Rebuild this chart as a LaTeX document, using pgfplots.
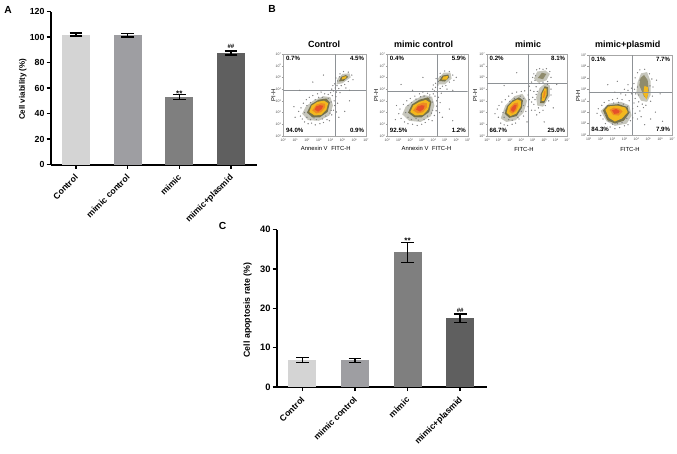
\documentclass[border=0pt]{standalone}
\usepackage{fontspec}
\setmainfont{Liberation Sans}
\usepackage{pgfplots}
\pgfplotsset{compat=1.18}
\definecolor{barA}{HTML}{D4D4D4}
\definecolor{barB}{HTML}{9E9EA2}
\definecolor{barC}{HTML}{7F7F7F}
\definecolor{barD}{HTML}{5F5F5F}
\definecolor{halo}{HTML}{C6C6BC}
\definecolor{ring}{HTML}{77724A}
\definecolor{yel}{HTML}{F2B81E}
\definecolor{ora}{HTML}{EE8A22}
\definecolor{redd}{HTML}{E5502A}
\definecolor{quad}{HTML}{8E9296}
\newcommand{\fs}[1]{\fontsize{#1}{#1}\selectfont}
\newcommand{\dec}[1]{10\raisebox{0.8pt}{\fs{1.8}#1}}
% one filled density contour
\newcommand{\blob}[2]{\addplot[fill=#1,draw=none,forget plot] coordinates {#2};}
% quadrant percentages: UL, UR, LL, LR
\newcommand{\qlabels}[4]{
  \node[font=\fs{4.6}\bfseries,anchor=north west,inner sep=0pt] at (rel axis cs:0.03,0.975) {#1};
  \node[font=\fs{4.6}\bfseries,anchor=north east,inner sep=0pt] at (rel axis cs:0.98,0.975) {#2};
  \node[font=\fs{4.6}\bfseries,anchor=south west,inner sep=0pt] at (rel axis cs:0.03,0.035) {#3};
  \node[font=\fs{4.6}\bfseries,anchor=south east,inner sep=0pt] at (rel axis cs:0.98,0.035) {#4};
}
\pgfplotsset{
  barpanel/.style={
    scale only axis, axis x line=bottom, axis y line=left,
    axis line style={-, line width=1.4pt},
    tick style={line width=1.1pt, black}, major tick length=3pt,
    tick align=outside, ymin=0,
    xtick={0,1,2,3},
    xticklabels={Control,mimic control,mimic,mimic+plasmid},
    x tick label style={font=\fs{6.5}\bfseries, rotate=45, anchor=north east, inner sep=1.5pt, xshift=-2pt},
    /pgf/number format/assume math mode=true,
    xmin=-0.49, xmax=3.51,
    clip=false,
  },
  onebar/.style={
    ybar, bar shift=0pt, bar width=21pt, draw=none, fill=#1,
    error bars/.cd, y dir=both, y explicit,
    error bar style={line width=1.2pt, black},
    error mark options={rotate=90, mark size=4.8pt, line width=1.2pt, black},
  },
  flow/.style={
    scale only axis, xmin=0, xmax=7, ymin=0, ymax=7,
    axis line style={line width=0.3pt, gray!70},
    tick style={line width=0.2pt, gray!80}, major tick length=1pt,
    tick align=outside, xtick pos=bottom, ytick pos=left,
    xtick={0,...,7}, ytick={0,...,7},
    xticklabels={\dec0,\dec1,\dec2,\dec3,\dec4,\dec5,\dec6,\dec7},
    yticklabels={\dec0,\dec1,\dec2,\dec3,\dec4,\dec5,\dec6,\dec7},
    tick label style={font=\fs{2.6}, text=black!70, inner sep=0.6pt},
  },
  dots/.style={only marks, mark=*, mark size=0.24pt, black!50, forget plot},
  qline/.style={quad, line width=0.75pt, forget plot},
}
\begin{document}
\begin{tikzpicture}[x=0.75pt,y=0.75pt]
\path[use as bounding box] (0,0) rectangle (677,453);

% panel A
\begin{axis}[barpanel, at={(38.03pt,216.23pt)}, anchor=south west,
    width=154.95pt, height=114.75pt, ymax=120,
    ytick={0,20,40,60,80,100,120},
    y tick label style={font=\fs{6.6}\bfseries, inner sep=1.5pt},
    ]
  \addplot[onebar=barA] coordinates {(0,102.0) +- (0,1.3)};
  \addplot[onebar=barB] coordinates {(1,101.5) +- (0,1.3)};
  \addplot[onebar=barC] coordinates {(2,53.0) +- (0,2.0)};
  \addplot[onebar=barD] coordinates {(3,87.6) +- (0,1.6)};
  \node[font=\fs{6}\bfseries] at (axis cs:2,55.5) {**};
  \node[font=\fs{4.6}\bfseries] at (axis cs:3,92.8) {\#\#};
\end{axis}

% panel C
\begin{axis}[barpanel, at={(207.53pt,49.5pt)}, anchor=south west,
    width=157.7pt, height=118.0pt, ymax=40,
    ytick={0,10,20,30,40},
    y tick label style={font=\fs{7}\bfseries, inner sep=1.5pt},
    ]
  \addplot[onebar=barA] coordinates {(0,6.9) +- (0,0.65)};
  \addplot[onebar=barB] coordinates {(1,6.75) +- (0,0.5)};
  \addplot[onebar=barC] coordinates {(2,34.2) +- (0,2.55)};
  \addplot[onebar=barD] coordinates {(3,17.5) +- (0,1.1)};
  \node[font=\fs{6}\bfseries] at (axis cs:2,37.2) {**};
  \node[font=\fs{4.6}\bfseries] at (axis cs:3,19.5) {\#\#};
\end{axis}

% panel B, four flow plots
\begin{axis}[flow, at={(212.48pt,237.75pt)}, anchor=south west, width=62pt, height=61.5pt]
  \blob{halo}{(1.6,1.9)(2.1,1.35)(3.0,1.3)(3.9,1.75)(4.2,2.6)(4.0,3.3)(3.4,3.4)(2.5,3.0)(1.9,2.5)}
  \blob{halo}{(4.5,4.4)(5.0,4.5)(5.7,5.0)(5.6,5.35)(5.0,5.3)(4.6,4.9)}
  \blob{ring}{(2.0,2.0)(2.45,1.6)(3.1,1.6)(3.75,2.05)(3.95,2.85)(3.65,3.2)(3.0,3.1)(2.35,2.7)}
  \blob{ring}{(4.7,4.65)(5.1,4.7)(5.5,5.05)(5.3,5.2)(4.9,5.05)}
  \blob{yel}{(2.2,2.05)(2.65,1.75)(3.2,1.8)(3.65,2.25)(3.8,2.8)(3.45,3.02)(2.9,2.92)(2.4,2.6)}
  \blob{yel}{(4.95,4.82)(5.3,4.92)(5.35,5.12)(5.0,5.03)}
  \blob{ora}{(2.45,2.18)(2.8,1.93)(3.2,2.03)(3.55,2.45)(3.55,2.75)(3.2,2.8)(2.8,2.68)}
  \blob{redd}{(2.65,2.25)(2.95,2.08)(3.25,2.3)(3.38,2.58)(3.1,2.63)(2.78,2.52)}
  \addplot[dots] coordinates {
    (1.3,2.1)(1.45,1.7)(1.5,2.4)(1.6,1.45)(1.7,2.8)(1.8,1.2)(1.95,3.1)(2.1,1.05)(2.2,3.3)(2.4,1.1)
    (2.5,3.45)(2.7,0.95)(2.9,3.6)(3.1,1.05)(3.2,3.75)(3.4,1.15)(3.5,3.6)(3.7,1.4)(3.8,3.55)(3.9,1.3)
    (4.0,3.7)(4.1,1.8)(4.15,3.45)(4.25,2.2)(4.3,3.0)(4.35,2.6)(4.45,3.35)(4.5,2.05)(4.6,2.8)(4.7,1.6)
    (4.1,4.0)(4.25,3.85)(4.4,4.1)(4.5,3.75)(4.55,4.3)(4.7,4.05)(4.8,3.7)(4.35,4.45)(4.9,4.3)(4.2,4.3)
    (4.6,4.7)(4.45,4.95)(4.8,5.3)(5.1,5.5)(5.5,5.45)(5.8,5.2)(5.9,4.8)(5.5,4.65)(5.2,4.4)(4.75,5.05)
    (1.8,2.0)(2.0,1.6)(2.3,1.4)(2.0,2.6)(2.3,2.85)(2.7,3.1)(3.0,3.3)(3.3,3.3)(3.8,3.2)(4.05,2.9)
    (3.6,1.7)(3.3,1.45)(2.8,1.4)(2.6,1.55)(4.05,2.2)(3.95,1.95)(5.3,4.1)(5.6,3.9)(1.0,1.6)(0.9,2.5)
    (5.2,2.1)(5.6,3.0)(2.5,4.6)(3.4,5.2)(1.4,3.9)
  };
  \addplot[qline] coordinates {(4.38,0) (4.38,7)};
  \addplot[qline] coordinates {(0,3.9) (7,3.9)};
  \qlabels{0.7\%}{4.5\%}{94.0\%}{0.9\%}
\end{axis}

\begin{axis}[flow, at={(290.48pt,237.75pt)}, anchor=south west, width=60.3pt, height=61.5pt]
  \blob{halo}{(1.3,1.85)(1.9,1.3)(2.9,1.2)(3.8,1.7)(4.1,2.6)(3.9,3.35)(3.2,3.5)(2.3,3.05)(1.6,2.5)}
  \blob{halo}{(4.3,4.4)(5.0,4.4)(5.6,4.9)(5.5,5.4)(4.9,5.4)(4.4,4.9)}
  \blob{ring}{(1.8,2.0)(2.35,1.6)(3.0,1.6)(3.65,2.05)(3.85,2.9)(3.55,3.3)(2.8,3.1)(2.15,2.7)}
  \blob{ring}{(4.5,4.7)(5.0,4.65)(5.4,5.0)(5.3,5.25)(4.8,5.15)}
  \blob{yel}{(2.0,2.05)(2.45,1.75)(3.1,1.8)(3.55,2.25)(3.7,2.85)(3.35,3.08)(2.8,2.92)(2.25,2.6)}
  \blob{yel}{(4.75,4.82)(5.2,4.82)(5.3,5.12)(4.9,5.08)}
  \blob{ora}{(2.25,2.18)(2.65,1.93)(3.1,2.03)(3.45,2.45)(3.45,2.8)(3.1,2.85)(2.65,2.68)}
  \blob{redd}{(2.5,2.25)(2.85,2.08)(3.15,2.3)(3.25,2.58)(3.0,2.63)(2.65,2.52)}
  \addplot[dots] coordinates {
    (0.8,2.6)(1.0,1.9)(1.1,2.3)(1.2,1.5)(1.4,2.7)(1.5,1.2)(1.7,3.0)(1.8,1.05)(2.0,3.2)(2.2,1.0)
    (2.4,3.4)(2.6,0.9)(2.8,3.6)(3.0,1.0)(3.1,3.75)(3.3,1.15)(3.5,3.65)(3.6,1.4)(3.7,3.5)(3.9,1.3)
    (4.0,3.6)(4.1,1.75)(4.15,3.4)(4.25,2.15)(4.3,3.0)(4.3,2.55)(4.45,3.3)(4.55,2.0)(4.6,2.85)(4.8,1.6)
    (3.95,4.0)(4.1,3.85)(4.2,4.15)(4.35,3.75)(4.4,4.35)(4.6,4.05)(4.7,3.65)(4.2,4.5)(4.8,4.25)(4.0,4.35)
    (4.45,4.65)(4.25,4.9)(4.6,5.35)(5.0,5.55)(5.4,5.5)(5.7,5.2)(5.8,4.75)(5.4,4.6)(5.1,4.3)(4.6,5.05)
    (1.6,2.0)(1.8,1.6)(2.1,1.4)(1.8,2.6)(2.1,2.85)(2.5,3.15)(2.9,3.35)(3.2,3.4)(3.7,3.25)(3.95,2.9)
    (3.5,1.7)(3.2,1.4)(2.7,1.35)(2.5,1.5)(3.95,2.2)(3.85,1.95)(5.2,4.0)(5.7,3.9)(0.7,1.4)(6.0,5.0)
    (5.4,2.3)(5.7,1.3)(1.2,4.4)(3.1,5.0)(2.2,3.9)
  };
  \addplot[qline] coordinates {(4.38,0) (4.38,7)};
  \addplot[qline] coordinates {(0,3.82) (7,3.82)};
  \qlabels{0.4\%}{5.9\%}{92.5\%}{1.2\%}
\end{axis}

\begin{axis}[flow, at={(365.25pt,237.75pt)}, anchor=south west, width=60pt, height=61.5pt]
  \blob{halo}{(1.2,1.5)(1.7,1.2)(2.5,1.35)(3.2,2.0)(3.5,3.0)(3.1,3.6)(2.4,3.4)(1.6,2.6)}
  \blob{halo}{(4.1,4.9)(4.5,4.55)(5.2,4.75)(5.5,5.3)(5.1,5.6)(4.4,5.5)}
  \blob{halo}{(4.4,2.6)(4.9,2.5)(5.5,3.4)(5.5,4.3)(5.1,4.5)(4.6,4.1)(4.3,3.3)}
  \blob{ring}{(1.55,1.9)(1.95,1.55)(2.6,1.7)(3.05,2.4)(3.15,3.05)(2.8,3.3)(2.25,3.05)(1.75,2.55)}
  \blob{ring}{(4.65,2.8)(5.0,2.8)(5.35,3.5)(5.35,4.15)(5.05,4.25)(4.7,3.6)}
  \blob{ring!70!halo}{(4.45,4.95)(4.9,4.85)(5.2,5.3)(4.8,5.4)}
  \blob{yel}{(1.72,1.98)(2.05,1.7)(2.55,1.9)(2.95,2.5)(2.98,3.0)(2.65,3.12)(2.2,2.88)(1.85,2.5)}
  \blob{yel}{(4.78,3.0)(5.0,3.0)(5.22,3.55)(5.22,4.03)(5.05,4.08)(4.82,3.6)}
  \blob{ora}{(1.95,2.1)(2.2,1.9)(2.55,2.15)(2.75,2.6)(2.7,2.85)(2.4,2.8)(2.05,2.45)}
  \blob{ora}{(4.9,3.25)(5.0,3.25)(5.1,3.6)(5.1,3.85)(4.98,3.8)}
  \blob{redd}{(2.1,2.2)(2.3,2.05)(2.5,2.3)(2.6,2.65)(2.4,2.65)(2.15,2.4)}
  \addplot[dots] coordinates {
    (0.7,1.9)(0.9,2.3)(1.0,1.6)(1.05,2.6)(1.2,1.1)(1.3,2.9)(1.5,0.95)(1.6,3.1)(1.8,0.9)(1.9,3.4)
    (2.2,1.0)(2.2,3.65)(2.5,1.1)(2.6,3.75)(2.8,1.45)(3.0,3.8)(3.2,1.7)(3.3,3.85)(3.4,2.1)(3.6,3.5)
    (3.6,2.5)(3.7,3.1)(3.8,3.9)(3.9,2.2)(4.0,3.3)(4.1,2.7)(4.1,3.8)(4.2,2.2)(4.3,4.2)(4.35,1.8)
    (3.9,4.6)(4.0,5.0)(4.1,5.3)(4.2,4.75)(4.35,5.65)(4.6,5.75)(4.9,5.7)(5.2,5.75)(5.5,5.5)(5.6,5.0)
    (5.3,4.65)(4.9,4.6)(4.6,4.5)(4.25,5.15)(5.4,3.0)(5.6,3.5)(5.6,4.0)(5.3,4.4)(4.4,3.8)(4.5,2.4)
    (4.9,2.2)(4.6,2.0)(5.1,2.6)(4.2,3.1)(4.3,3.55)(3.9,2.9)(3.7,4.25)(1.4,2.0)(1.5,1.6)(1.6,2.2)
    (1.9,1.4)(2.2,1.35)(2.0,2.95)(2.4,3.2)(2.9,3.4)(3.2,3.2)(3.2,2.6)(3.0,2.1)(2.7,1.6)(3.5,1.2)
    (5.0,1.2)(5.8,2.4)(6.1,4.4)(1.5,4.3)(2.6,5.4)
  };
  \addplot[qline] coordinates {(3.67,0) (3.67,7)};
  \addplot[qline] coordinates {(0,4.46) (7,4.46)};
  \qlabels{0.2\%}{8.1\%}{66.7\%}{25.0\%}
\end{axis}

\begin{axis}[flow, at={(441.53pt,238.5pt)}, anchor=south west, width=62.5pt, height=60pt]
  \blob{halo}{(1.0,2.1)(1.5,1.2)(2.2,0.8)(3.2,1.0)(3.6,1.7)(3.4,2.6)(2.7,2.9)(1.7,2.75)}
  \blob{halo}{(4.0,3.7)(4.1,4.6)(4.4,5.4)(4.9,5.5)(5.2,4.7)(5.2,3.5)(4.9,2.9)(4.4,3.0)}
  \blob{ring}{(1.2,2.15)(1.55,1.3)(2.2,1.0)(2.95,1.25)(3.4,1.9)(3.25,2.45)(2.5,2.7)(1.55,2.6)}
  \blob{ring!70!halo}{(4.25,4.35)(4.35,5.0)(4.65,5.25)(4.95,4.8)(5.05,3.9)(4.9,3.2)(4.65,3.35)}
  \blob{yel}{(1.4,2.2)(1.7,1.5)(2.2,1.18)(2.8,1.45)(3.28,2.0)(3.08,2.4)(2.4,2.58)(1.65,2.5)}
  \blob{yel}{(4.58,3.6)(4.85,3.1)(5.02,3.7)(4.97,4.18)(4.68,4.3)}
  \blob{ora}{(1.75,2.2)(2.05,1.75)(2.5,1.7)(2.85,2.05)(2.6,2.3)(2.1,2.4)}
  \blob{redd}{(1.95,2.15)(2.15,1.85)(2.5,1.9)(2.6,2.1)(2.3,2.28)}
  \addplot[dots] coordinates {
    (0.7,1.9)(0.8,2.3)(1.0,1.7)(1.1,2.6)(1.2,1.4)(1.3,2.85)(1.4,1.0)(1.7,3.0)(1.8,0.7)(2.0,3.1)
    (2.2,0.55)(2.4,3.2)(2.6,0.65)(2.8,3.1)(3.0,0.8)(3.1,3.5)(3.3,0.9)(3.4,3.0)(3.5,1.25)(3.6,3.6)
    (3.7,1.5)(3.7,2.3)(3.8,2.8)(3.9,1.9)(3.9,3.2)(4.1,2.5)(4.1,1.4)(4.2,2.9)(4.3,2.1)(4.5,2.7)
    (4.6,2.4)(4.8,2.6)(4.4,1.6)(3.3,3.9)(2.7,3.6)(2.2,3.75)(3.0,4.0)(3.6,4.1)(3.85,4.0)(3.8,4.5)
    (3.9,5.0)(4.1,5.45)(4.3,5.7)(4.7,5.75)(5.1,5.35)(5.3,4.9)(5.4,4.2)(5.35,3.4)(5.2,2.95)(3.95,3.6)
    (1.4,1.8)(1.5,2.5)(1.7,1.2)(2.1,2.8)(2.5,2.85)(2.9,2.7)(3.25,2.5)(3.4,2.0)(3.2,1.45)(2.8,1.1)
    (2.4,1.0)(2.0,0.95)(4.2,3.5)(4.1,4.2)(4.3,4.8)(5.15,4.3)(5.6,2.0)(6.0,3.6)(5.2,1.4)(1.6,4.4)
    (2.4,4.7)(3.3,4.4)(5.7,4.8)(6.2,1.2)(4.7,0.9)
  };
  \addplot[qline] coordinates {(3.64,0) (3.64,7)};
  \addplot[qline] coordinates {(0,3.76) (7,3.76)};
  \qlabels{0.1\%}{7.7\%}{84.3\%}{7.9\%}
\end{axis}

% figure text placed in image pixels (y up)
\node[font=\fs{6}\bfseries, rotate=90] at (22.7,363.7) {Cell viability (\%)};
\node[font=\fs{6.6}\bfseries, rotate=90] at (247.7,143) {Cell apoptosis rate (\%)};
\node[font=\fs{7.7}\bfseries] at (8,443) {A};
\node[font=\fs{7.7}\bfseries] at (272,444.5) {B};
\node[font=\fs{7.7}\bfseries] at (222.7,226.7) {C};
\node[font=\fs{6.75}\bfseries] at (324,408.3) {Control};
\node[font=\fs{6.75}\bfseries] at (423.7,408.3) {mimic control};
\node[font=\fs{6.75}\bfseries] at (528,408.3) {mimic};
\node[font=\fs{6.75}\bfseries] at (627.7,408.3) {mimic+plasmid};
\node[font=\fs{4.4}] at (325.7,304.3) {Annexin V\hspace{1.5pt} FITC-H};
\node[font=\fs{4.4}] at (426.5,304.3) {Annexin V\hspace{1.5pt} FITC-H};
\node[font=\fs{4.4}] at (524,303.5) {FITC-H};
\node[font=\fs{4.4}] at (630,303.5) {FITC-H};
\node[font=\fs{4.4}, rotate=90] at (273.3,357.5) {PI-H};
\node[font=\fs{4.4}, rotate=90] at (376,357.5) {PI-H};
\node[font=\fs{4.4}, rotate=90] at (475,357.5) {PI-H};
\node[font=\fs{4.4}, rotate=90] at (578,357) {PI-H};
\end{tikzpicture}
\end{document}
